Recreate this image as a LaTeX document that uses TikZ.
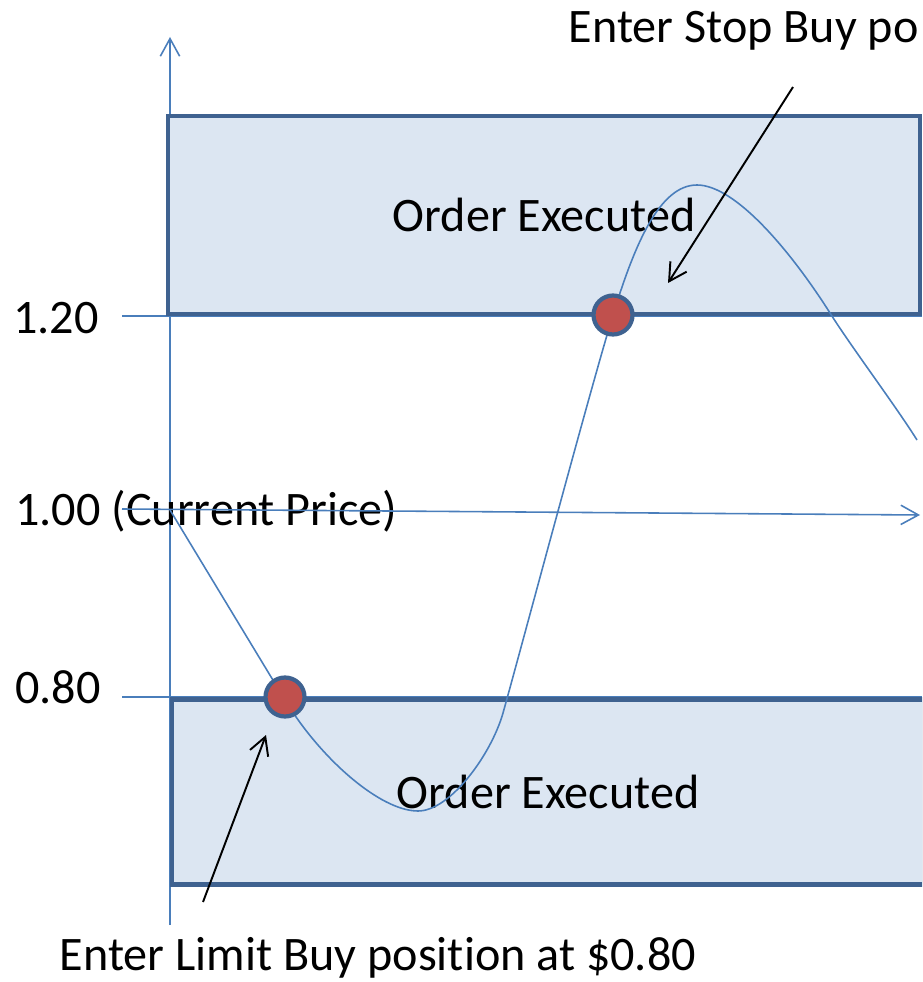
\documentclass[tikz,border=0pt]{standalone}
\usepackage{fontspec}
\setmainfont{Carlito}[Ligatures=NoCommon]
\usetikzlibrary{arrows.meta}
\definecolor{lineblue}{HTML}{4A7EBB}
\definecolor{edgeblue}{HTML}{3F6290}
\definecolor{zonefill}{HTML}{DCE6F2}
\definecolor{dotred}{HTML}{C0504D}
\begin{document}
\begin{tikzpicture}[x=0.02cm,y=-0.02cm,
    font=\fontsize{27.4}{32}\selectfont,
    thinblue/.style={draw=lineblue,line width=0.9pt},
    zonebox/.style={draw=edgeblue,fill=zonefill,line width=2.6pt,minimum width=15.04cm},
    hitdot/.style={circle,draw=edgeblue,fill=dotred,line width=2.4pt,minimum size=0.78cm,inner sep=0pt},
    barb/.style={-{Straight Barb[length=10pt,width=11pt]}}]
  \useasboundingbox (0,0) rectangle (922,982);
  \clip (0,0) rectangle (922,982);
  % price levels
  \coordinate (lvlA) at (122,316);
  \coordinate (lvlB) at (122,697);
  \coordinate (curL) at (122,509);
  \coordinate (curR) at (920,515);
  \draw[thinblue] (lvlA) -- (922,316);
  \draw[thinblue] (lvlB) -- (922,697);
  % axis
  \coordinate (axbot) at (170,925);
  \coordinate (axtop) at (170,37);
  \draw[thinblue,barb] (axbot) -- (axtop);
  % zones
  \node[zonebox,minimum height=3.96cm] (upzone) at (544,215) {Order Executed};
  \node[zonebox,minimum height=3.7cm] (lowzone) at (548,792) {Order Executed};
  % labels
  \node[anchor=west,inner sep=0pt] (l120) at (13,318) {1.20};
  \node[anchor=west,inner sep=0pt] (l100) at (15,511) {1.00 (Current Price)};
  \node[anchor=west,inner sep=0pt] (l080) at (15,687) {0.80};
  \draw[thinblue,barb] (curL) -- (curR);
  % price path
  \coordinate (pstart) at (170,510);
  \coordinate (plow) at (418,811);
  \coordinate (phigh) at (697,185);
  \coordinate (pend) at (917,440);
  \draw[thinblue] (pstart) -- (285,700)
    .. controls (320,758) and (380,811) .. (plow)
    .. controls (450,811) and (491,755) .. (503,713)
    .. controls (522,645) and (590,390) .. (613,315)
    .. controls (635,243) and (660,185) .. (phigh)
    .. controls (735,185) and (790,250) .. (830,313)
    .. controls (850,345) and (895,405) .. (pend);
  \node[hitdot] (limitdot) at (285,697) {};
  \node[hitdot] (stopdot) at (613,315) {};
  % notes
  \node[anchor=east,inner sep=0pt] (stopnote) at (919,31) {Enter Stop Buy po};
  \node[inner sep=0pt] (limitnote) at (378,958) {Enter Limit Buy position at \$0.80};
  \coordinate (stoptail) at (793,87);
  \coordinate (stophead) at (668,283);
  \coordinate (limittail) at (203,902);
  \coordinate (limithead) at (266,735);
  \draw[line width=1.1pt,barb] (stoptail) -- (stophead);
  \draw[line width=1.1pt,barb] (limittail) -- (limithead);
\end{tikzpicture}
\end{document}
